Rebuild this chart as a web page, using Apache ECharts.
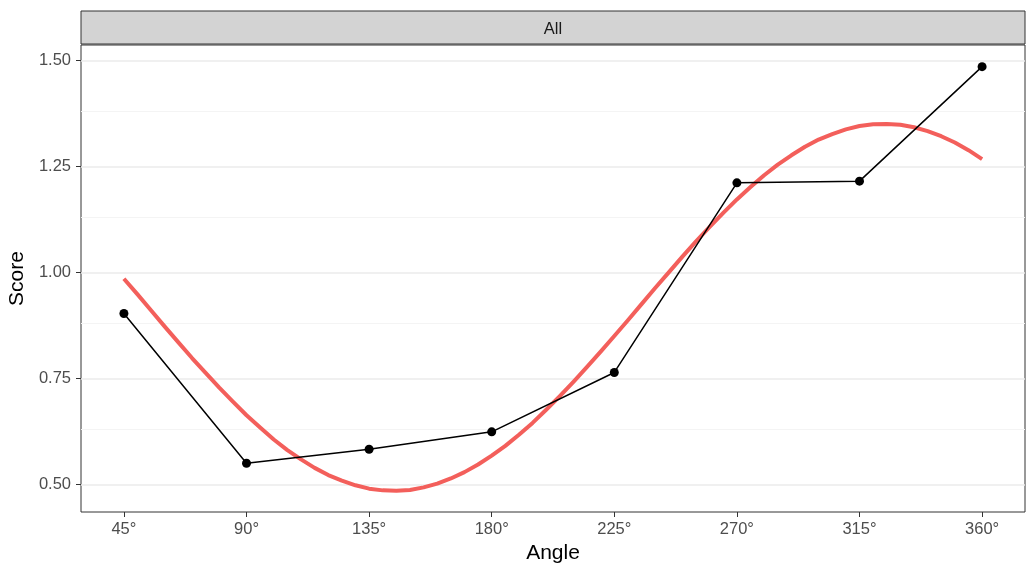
<!DOCTYPE html>
<html>
<head>
<meta charset="utf-8">
<script src="https://cdn.jsdelivr.net/npm/echarts@6.0.0/dist/echarts.min.js"></script>
<style>
  html, body { margin: 0; padding: 0; background: #fff; }
  #main { width: 1036px; height: 576px; }
</style>
</head>
<body>
<div id="main"></div>
<script>
// observed points
const angles = [45, 90, 135, 180, 225, 270, 315, 360];
const scores = [0.903, 0.550, 0.583, 0.624, 0.764, 1.211, 1.215, 1.485];

const fitAngles = [45, 50, 55, 60, 65, 70, 75, 80, 85, 90, 95, 100, 105, 110,
  115, 120, 125, 130, 135, 140, 145, 150, 155, 160, 165, 170, 175, 180, 185,
  190, 195, 200, 205, 210, 215, 220, 225, 230, 235, 240, 245, 250, 255, 260,
  265, 270, 275, 280, 285, 290, 295, 300, 305, 310, 315, 320, 325, 330, 335,
  340, 345, 350, 355, 360];
const fitScores = [0.985, 0.948, 0.910, 0.872, 0.835, 0.798, 0.763, 0.728,
  0.695, 0.663, 0.634, 0.606, 0.581, 0.559, 0.539, 0.522, 0.509, 0.498,
  0.490, 0.486, 0.485, 0.487, 0.493, 0.502, 0.514, 0.529, 0.547, 0.568,
  0.591, 0.617, 0.645, 0.676, 0.708, 0.742, 0.777, 0.813, 0.850, 0.887,
  0.925, 0.963, 1.000, 1.037, 1.073, 1.107, 1.140, 1.172, 1.201, 1.229,
  1.254, 1.276, 1.296, 1.313, 1.326, 1.337, 1.345, 1.349, 1.350, 1.348,
  1.342, 1.333, 1.321, 1.306, 1.288, 1.267];

const xTicks = [45, 90, 135, 180, 225, 270, 315, 360];
const yTicks = [0.5, 0.75, 1.0, 1.25, 1.5];
const yMinor = [0.625, 0.875, 1.125, 1.375];
const stripLabel = 'All';

const font = 'Liberation Sans, Arial, Helvetica, sans-serif';

const zip = (xs, ys) => xs.map((x, i) => [x, ys[i]]);

const gridLines = [
  ...yMinor.map(v => ({ yAxis: v, lineStyle: { color: '#F4F4F4', width: 1, type: 'solid' } })),
  ...yTicks.map(v => ({ yAxis: v, lineStyle: { color: '#EBEBEB', width: 1.5, type: 'solid' } }))
];

const myChart = echarts.init(document.getElementById('main'));

const option = {
  animation: false,
  textStyle: { fontFamily: font },
  grid: {
    left: 81, top: 45, width: 944, height: 467,
    outerBoundsMode: 'none',
    show: true, borderColor: '#333333', borderWidth: 1
  },
  xAxis: {
    type: 'value',
    min: 29.25,
    max: 375.75,
    name: 'Angle',
    nameLocation: 'middle',
    nameGap: 30,
    nameTextStyle: { color: '#000', fontSize: 21, fontFamily: font },
    axisLine: { show: false },
    axisTick: {
      show: true, customValues: xTicks, length: 5,
      lineStyle: { color: '#333333', width: 1 }
    },
    axisLabel: {
      customValues: xTicks, margin: 9, color: '#4D4D4D', fontSize: 16.5,
      fontFamily: font,
      formatter: v => v + '°'
    },
    splitLine: { show: false }
  },
  yAxis: {
    type: 'value',
    min: 0.435,
    max: 1.536,
    name: 'Score',
    nameLocation: 'middle',
    nameRotate: 90,
    nameGap: 52,
    nameTextStyle: { color: '#000', fontSize: 21, fontFamily: font },
    axisLine: { show: false },
    axisTick: {
      show: true, customValues: yTicks, length: 5,
      lineStyle: { color: '#333333', width: 1 }
    },
    axisLabel: {
      customValues: yTicks, margin: 10, color: '#4D4D4D', fontSize: 16.5,
      fontFamily: font,
      formatter: v => v.toFixed(2)
    },
    splitLine: { show: false }
  },
  graphic: [
    {
      type: 'rect',
      shape: { x: 81, y: 11, width: 944, height: 33 },
      style: { fill: '#D3D3D3', stroke: '#333333', lineWidth: 1 },
      z: 10
    },
    {
      type: 'text',
      x: 553, y: 29,
      style: {
        text: stripLabel, fill: '#1A1A1A', fontSize: 16.5, fontFamily: font,
        align: 'center', verticalAlign: 'middle'
      },
      z: 11
    }
  ],
  series: [
    {
      name: 'grid',
      type: 'line',
      data: [],
      z: 1,
      silent: true,
      markLine: {
        silent: true,
        z: 1,
        symbol: ['none', 'none'],
        label: { show: false },
        emphasis: { disabled: true },
        data: gridLines
      }
    },
    {
      name: 'fit',
      type: 'line',
      data: zip(fitAngles, fitScores),
      smooth: false,
      symbol: 'none',
      z: 3,
      lineStyle: { color: '#F35F5B', width: 4, cap: 'butt', join: 'round' }
    },
    {
      name: 'score',
      type: 'line',
      data: zip(angles, scores),
      symbol: 'circle',
      symbolSize: 9,
      z: 4,
      itemStyle: { color: '#000' },
      lineStyle: { color: '#000', width: 1.5 }
    }
  ]
};

myChart.setOption(option);
</script>
</body>
</html>
